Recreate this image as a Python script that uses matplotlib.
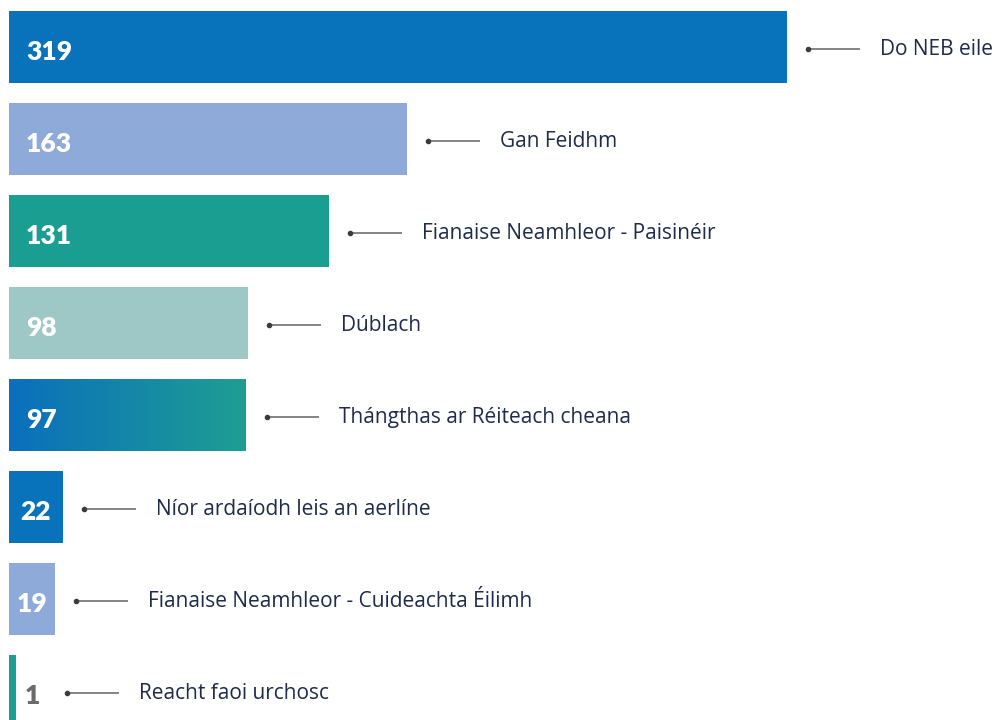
import numpy as np
import matplotlib.pyplot as plt
from matplotlib.colors import LinearSegmentedColormap

labels = [
    "Do NEB eile",
    "Gan Feidhm",
    "Fianaise Neamhleor - Paisinéir",
    "Dúblach",
    "Thángthas ar Réiteach cheana",
    "Níor ardaíodh leis an aerlíne",
    "Fianaise Neamhleor - Cuideachta Éilimh",
    "Reacht faoi urchosc",
]
values = [319, 163, 131, 98, 97, 22, 19, 1]
colors = ["#0872ba", "#8eaad8", "#1b9e92", "#9dc8c5", "gradient",
          "#0872ba", "#8eaad8", "#1b9e92"]

plt.rcParams['font.family'] = ['Open Sans', 'DejaVu Sans']

fig = plt.figure(figsize=(10, 7.2), dpi=100)
ax = fig.add_axes([0, 0, 1, 1])

px = 1 / 2.44          # one pixel in data units
x0 = 9 * px
ax.axis('off')

h = 72 / 92
grad = LinearSegmentedColormap.from_list('g', ['#0a6fbd', '#1e9e92'])

for i, (lab, v, c) in enumerate(zip(labels, values, colors)):
    w = max(v, 7 * px)
    if c == "gradient":
        img = np.linspace(0, 1, 200).reshape(1, -1)
        ax.imshow(img, cmap=grad, aspect='auto',
                  extent=(0, w, i + h / 2, i - h / 2), zorder=1)
    else:
        ax.barh(i, w, height=h, left=0, color=c, zorder=1)

    # value label
    yl = i + 0.05
    if v > 30:
        ax.text(17 * px, yl, str(v), color='white', fontsize=19,
                fontweight='heavy', family=['Lato', 'DejaVu Sans'],
                ha='left', va='center', zorder=3)
    else:
        xc = max(w / 2, 23.5 * px)
        col = 'white' if v > 5 else '#6b6b6b'
        ax.text(xc, yl, str(v), color=col, fontsize=19,
                fontweight='heavy', family=['Lato', 'DejaVu Sans'],
                ha='center', va='center', zorder=3)

    # leader line and category text
    end = max(w, 37 * px)
    yc = i + 0.025
    ax.plot([end + 21 * px, end + 73 * px], [yc, yc], color='#707070', lw=1.2,
            solid_capstyle='butt', zorder=2)
    ax.plot(end + 21 * px, yc, 'o', color='#3c3c3c', ms=3, zorder=2)
    ax.text(end + 93 * px, yc, lab, color='#1e2b4a', fontsize=15,
            ha='left', va='center')

ax.set_xlim(-x0, 1000 * px - x0)
ax.set_ylim((720 - 47) / 92, -47 / 92)
fig.savefig('out.png', dpi=100)
